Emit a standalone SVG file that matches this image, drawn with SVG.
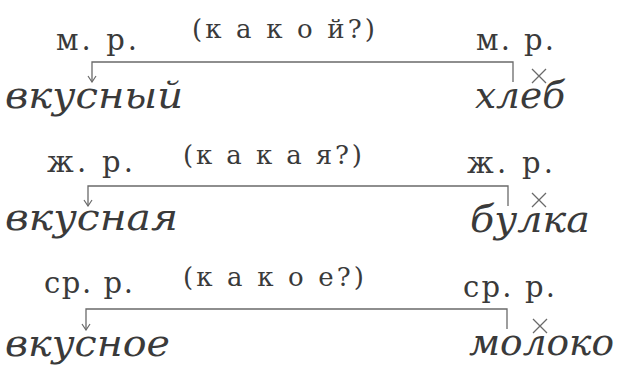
<svg xmlns="http://www.w3.org/2000/svg" width="624" height="365" viewBox="0 0 624 365">
<style>
.q{font-family:"DejaVu Serif",serif;font-size:26px;fill:#3a3a3a}
.g{font-family:"DejaVu Serif",serif;font-size:29px;fill:#3a3a3a}
.w{font-family:"DejaVu Serif",serif;font-style:italic;font-size:37px;fill:#3a3a3a}
.ln{fill:none;stroke:#6a6a6a;stroke-width:1.3}
</style>
<defs>
<marker id="arr" viewBox="0 0 10 10" refX="5" refY="9" markerWidth="10" markerHeight="10" markerUnits="userSpaceOnUse">
<path d="M1,3 L5,9 L9,3" fill="none" stroke="#6a6a6a" stroke-width="1.2"/>
</marker>
</defs>
<g id="row1">
<text class="q" x="192" y="38" textLength="183">(к а к о й?)</text>
<text class="g" x="56" y="50" textLength="81">м. р.</text>
<text class="g" x="476" y="50" textLength="78">м. р.</text>
<text class="w" x="5" y="108" textLength="178" lengthAdjust="spacingAndGlyphs">вкусный</text>
<text class="w" x="475" y="108" textLength="90" lengthAdjust="spacingAndGlyphs">хлеб</text>
</g>
<g id="row2">
<text class="q" x="183" y="164" textLength="179">(к а к а я?)</text>
<text class="g" x="47" y="172" textLength="86">ж. р.</text>
<text class="g" x="467" y="173" textLength="86">ж. р.</text>
<text class="w" x="5" y="230" textLength="173" lengthAdjust="spacingAndGlyphs">вкусная</text>
<text class="w" x="470" y="232" textLength="120" lengthAdjust="spacingAndGlyphs">булка</text>
</g>
<g id="row3">
<text class="q" x="183" y="286" textLength="181">(к а к о е?)</text>
<text class="g" x="44" y="293" textLength="89">ср. р.</text>
<text class="g" x="463" y="297" textLength="92">ср. р.</text>
<text class="w" x="5" y="356" textLength="165" lengthAdjust="spacingAndGlyphs">вкусное</text>
<text class="w" x="469" y="355" textLength="145" lengthAdjust="spacingAndGlyphs">молоко</text>
</g>
<g id="connectors">
<path class="ln" d="M513,82 V62 H92 V82" marker-end="url(#arr)"/>
<path class="ln" d="M508,206 V186 H88 V206" marker-end="url(#arr)"/>
<path class="ln" d="M507,329 V309 H86 V330" marker-end="url(#arr)"/>
<path class="ln" d="M532,69 L546,83 M546,69 L532,83"/>
<path class="ln" d="M532,193 L546,207 M546,193 L532,207"/>
<path class="ln" d="M533,319 L547,333 M547,319 L533,333"/>
</g>
</svg>
